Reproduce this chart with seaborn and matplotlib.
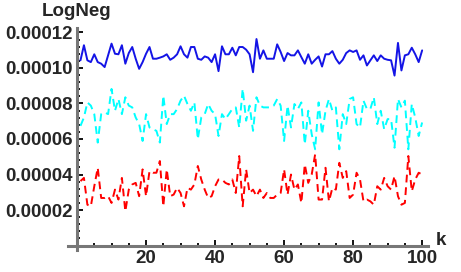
import numpy as np
import pandas as pd
import matplotlib
matplotlib.use("Agg")
import matplotlib.pyplot as plt
import seaborn as sns
from matplotlib.ticker import MultipleLocator

# values, in units of 1e-6
k = list(range(1, 101))

blue = [104.3, 112.8, 104.3, 103.3, 107.7, 103.3, 102.4, 100.5, 107.1, 113.7,
        108.0, 107.7, 112.8, 102.4, 108.4, 111.8, 105.2, 99.5, 103.3, 108.0,
        111.8, 105.2, 105.2, 105.8, 106.5, 107.7, 104.6, 105.8, 107.7, 112.2,
        107.7, 105.8, 111.8, 111.8, 105.2, 104.6, 106.5, 105.8, 103.3, 107.7,
        98.2, 112.2, 107.7, 107.7, 111.4, 107.1, 111.8, 111.8, 110.3, 107.7,
        97.6, 116.3, 105.2, 109.9, 105.2, 105.2, 105.2, 113.3, 109.0, 103.9,
        108.4, 107.1, 107.1, 109.9, 106.1, 102.4, 107.7, 102.4, 104.6, 106.5,
        100.8, 107.7, 107.7, 109.5, 105.2, 102.4, 104.6, 108.4, 109.9, 109.0,
        109.9, 104.6, 107.1, 101.4, 104.3, 107.1, 103.9, 107.1, 105.2, 104.6,
        104.3, 95.7, 114.1, 98.6, 107.1, 107.7, 111.4, 107.7, 103.3, 109.9]

cyan = [67.4, 72.1, 80.6, 78.8, 74.0, 58.0, 74.0, 75.0, 74.0, 88.2,
        75.9, 82.5, 74.0, 83.5, 78.8, 77.8, 72.1, 68.4, 58.9, 74.0,
        66.5, 65.5, 64.6, 58.0, 84.4, 68.4, 74.0, 74.0, 76.9, 81.6,
        84.4, 79.7, 75.9, 80.6, 59.9, 72.1, 74.0, 79.7, 75.9, 74.0,
        61.7, 74.0, 71.2, 74.0, 76.9, 77.8, 66.5, 88.2, 70.3, 78.8,
        64.6, 83.5, 78.8, 77.8, 77.8, 77.8, 78.8, 82.5, 78.8, 58.9,
        78.8, 66.5, 79.7, 76.9, 80.6, 57.0, 75.9, 62.7, 54.2, 80.6,
        62.7, 75.9, 82.5, 75.9, 77.8, 54.2, 74.0, 68.4, 82.5, 83.5,
        68.4, 66.5, 81.6, 76.9, 76.9, 83.5, 68.4, 75.9, 65.5, 71.2,
        71.2, 55.1, 82.5, 77.8, 81.6, 54.2, 79.7, 72.1, 61.7, 69.3]

red = [36.3, 38.1, 23.0, 22.1, 33.4, 43.8, 26.8, 26.8, 27.8, 24.0,
       31.5, 25.9, 38.1, 19.3, 31.5, 34.4, 35.3, 27.8, 42.9, 27.8,
       41.9, 41.0, 41.0, 47.6, 22.1, 42.9, 27.8, 28.7, 32.5, 29.6,
       22.1, 32.5, 31.5, 34.4, 44.8, 37.2, 31.5, 26.8, 27.8, 33.4,
       37.2, 37.2, 35.3, 34.4, 37.2, 29.6, 50.4, 22.1, 42.9, 29.6,
       31.5, 27.8, 31.5, 26.8, 29.6, 26.8, 26.8, 28.7, 29.6, 42.9,
       28.7, 40.0, 31.5, 34.4, 24.0, 45.7, 35.3, 40.0, 51.4, 25.9,
       25.9, 43.8, 24.9, 32.5, 31.5, 46.6, 38.1, 41.9, 26.8, 28.7,
       41.0, 37.2, 24.9, 25.9, 24.9, 23.0, 33.4, 31.5, 38.1, 33.4,
       31.5, 39.1, 27.8, 23.0, 24.0, 50.4, 30.6, 37.2, 41.0, 40.0]

sns.set_style("ticks")
plt.rcParams['font.family'] = ['Liberation Sans', 'DejaVu Sans']

fig = plt.figure(figsize=(4.61, 2.72), dpi=100)
# axes box spans from a bit left/below the crossing point, like Mathematica axes
ax = fig.add_axes([68.4 / 461, 1 - 250 / 272, (428 - 68.4) / 461, (250 - 28) / 272])

scale = 1e-6
sns.lineplot(x=k, y=np.array(blue) * scale, ax=ax, color="#1414e6", linewidth=1.4)
sns.lineplot(x=k, y=np.array(cyan) * scale, ax=ax, color="#00ffff", linewidth=1.4,
             linestyle=(0, (4, 2.5)))
sns.lineplot(x=k, y=np.array(red) * scale, ax=ax, color="#ff0000", linewidth=1.4,
             linestyle=(0, (4, 2.5)))

ax.set_xlim(-2.5, 101.7)
ax.set_ylim(-0.0000025, 0.0001225)

# axes cross at the origin (setting spine position resets ticks, so do it first)
sns.despine(ax=ax)
ax.spines["left"].set_position(("data", 0))
ax.spines["bottom"].set_position(("data", 0))
ax.spines["left"].set_bounds(-0.0000025, 0.0001225)
ax.spines["bottom"].set_bounds(-2.5, 101.7)
for side in ["left", "bottom"]:
    ax.spines[side].set_color("#777777")
    ax.spines[side].set_linewidth(2.2)

ax.xaxis.set_minor_locator(MultipleLocator(5))
ax.yaxis.set_minor_locator(MultipleLocator(0.000004))

xt = [20, 40, 60, 80, 100]
ax.set_xticks(xt)
ax.set_xticklabels([str(v) for v in xt], fontsize=13.5, fontweight="bold")
yt = [0.00002, 0.00004, 0.00006, 0.00008, 0.00010, 0.00012]
ax.set_yticks(yt)
ax.set_yticklabels([f"{v:.5f}" for v in yt], fontsize=13.5, fontweight="bold")

ax.tick_params(which="major", direction="in", length=4, width=1.3, color="black", pad=3)
ax.tick_params(which="minor", direction="in", length=2.2, width=1.3, color="black")

ax.annotate("LogNeg", xy=(2.5 / 104.2, 1), xycoords="axes fraction", xytext=(0, 12),
            textcoords="offset points", ha="center", va="center",
            fontsize=13.5, fontweight="bold")
ax.annotate("k", xy=(1, 2.5 / 125), xycoords="axes fraction", xytext=(9, 4),
            textcoords="offset points", ha="center", va="center",
            fontsize=13.5, fontweight="bold")

fig.savefig("out.png", dpi=100)
